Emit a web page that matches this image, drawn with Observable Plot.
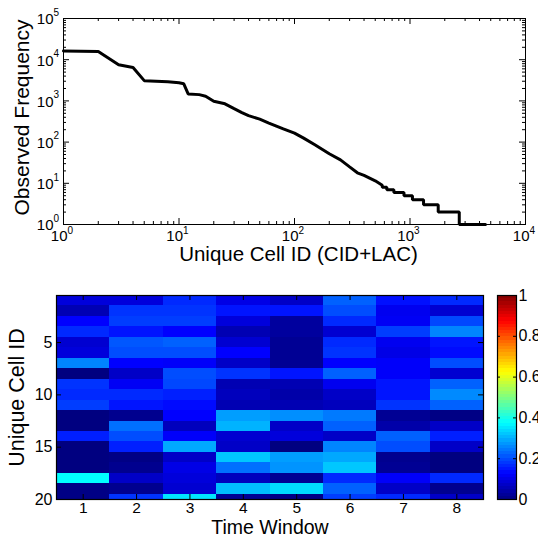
<!DOCTYPE html>
<html>
<head>
<meta charset="utf-8">
<script src="https://cdn.jsdelivr.net/npm/d3@7"></script>
<script src="https://cdn.jsdelivr.net/npm/@observablehq/plot@0.6"></script>
<style>
  html, body { margin: 0; padding: 0; background: white; }
  #wrap { position: relative; width: 538px; height: 542px; background: white; overflow: hidden; }
  #wrap > * { position: absolute; left: 0; }
</style>
</head>
<body>
<div id="wrap"></div>
<script>
// ---- Top panel: rank / frequency (log-log) ----
const ranks = [1,2,3,4,5,8,10,11,12,15,17,20,25,30,35,40,50,60,80,100,120,150,200,250,300,350,400,500,575,575,630,630,725,725,887,887,1050,1050,1310,1310,1755,1755,2670,2670,4500];
const freqs = [16200,15800,7500,6500,3100,2900,2750,2600,1480,1420,1300,980,850,650,520,440,360,290,210,165,125,86,52,37,25,18,15.5,11.5,9,8,8,7,7,6,6,5,5,4,4,3,3,2,2,1,1];
const xDecades = [1,10,100,1000,10000];
const xExponents = ["0","1","2","3","4"];
const yDecades = [1,10,100,1000,10000,100000];
const yExponents = ["0","1","2","3","4","5"];

// ---- Bottom panel: heatmap, one array per time window (rows = unique cell ID 1..20) ----
const window1 = [.09,.05,.125,.165,.08,.09,.255,.00,.175,.165,.185,.00,.00,.155,.00,.00,.00,.375,.005,.005];
const window2 = [.09,.175,.185,.145,.21,.20,.125,.07,.115,.165,.145,.015,.235,.20,.155,.005,.015,.07,.015,.175];
const window3 = [.165,.175,.185,.125,.22,.20,.12,.20,.195,.155,.135,.125,.06,.12,.29,.07,.10,.09,.08,.35];
const window4 = [.10,.145,.09,.05,.08,.125,.07,.175,.05,.06,.05,.28,.30,.08,.07,.32,.235,.06,.31,.02];
const window5 = [.07,.145,.03,.03,.02,.02,.02,.145,.05,.04,.05,.265,.07,.09,.00,.28,.27,.02,.34,.005];
const window6 = [.22,.20,.165,.08,.165,.175,.125,.22,.11,.07,.06,.245,.22,.07,.255,.29,.32,.165,.22,.185];
const window7 = [.14,.11,.115,.185,.11,.10,.12,.12,.145,.145,.175,.02,.04,.22,.20,.015,.02,.12,.07,.165];
const window8 = [.165,.08,.195,.255,.145,.135,.20,.08,.22,.26,.22,.005,.07,.155,.07,.00,.00,.165,.015,.07];
const timeWindows = [window1,window2,window3,window4,window5,window6,window7,window8];
const xTickLabels = ["1","2","3","4","5","6","7","8"];
const yTickValues = [5,10,15,20];
const colorbarTicks = [0,0.2,0.4,0.6,0.8,1];
const colorbarLabels = ["0","0.2","0.4","0.6","0.8","1"];

const FONT = "'Liberation Sans', Arial, Helvetica, sans-serif";
const jetScale = d3.scaleLinear()
  .domain([0, 0.125, 0.375, 0.625, 0.875, 1])
  .range(["#000080", "#0000ff", "#00ffff", "#ffff00", "#ff0000", "#800000"])
  .clamp(true);
const jet = t => jetScale(t);

const wrap = document.getElementById("wrap");

// ================= TOP CHART =================
const tW = 538, tH = 270, tML = 63, tMR = 13, tMT = 18, tMB = 46;
const tFW = tW - tML - tMR, tFH = tH - tMT - tMB;
const lineData = ranks.map((r, i) => ({rank: r, freq: freqs[i]}));
const xMinor = d3.scaleLog().domain([1, 1e4]).ticks().filter(v => !xDecades.includes(v));
const yMinor = d3.scaleLog().domain([1, 1e5]).ticks().filter(v => !yDecades.includes(v));

const topChart = Plot.plot({
  width: tW, height: tH,
  marginLeft: tML, marginRight: tMR, marginTop: tMT, marginBottom: tMB,
  style: {background: "transparent", fontFamily: FONT, overflow: "visible"},
  x: {type: "log", domain: [1, 1e4], axis: null},
  y: {type: "log", domain: [1, 1e5], axis: null},
  marks: [
    Plot.ruleX(xDecades, {x: d => d, insetTop: tFH - 6, stroke: "black"}),
    Plot.ruleX(xDecades, {x: d => d, insetBottom: tFH - 6, stroke: "black"}),
    Plot.ruleX(xMinor, {x: d => d, insetTop: tFH - 3, stroke: "black"}),
    Plot.ruleX(xMinor, {x: d => d, insetBottom: tFH - 3, stroke: "black"}),
    Plot.ruleY(yDecades, {y: d => d, insetRight: tFW - 6, stroke: "black"}),
    Plot.ruleY(yDecades, {y: d => d, insetLeft: tFW - 6, stroke: "black"}),
    Plot.ruleY(yMinor, {y: d => d, insetRight: tFW - 3, stroke: "black"}),
    Plot.ruleY(yMinor, {y: d => d, insetLeft: tFW - 3, stroke: "black"}),
    Plot.line(lineData, {x: "rank", y: "freq", stroke: "black", strokeWidth: 3, strokeLinejoin: "miter"}),
    Plot.frame({stroke: "black"}),
    Plot.text(xDecades, {x: d => d, frameAnchor: "bottom", dy: 16, dx: 4, textAnchor: "end", text: () => "10", fontSize: 15, fill: "black"}),
    Plot.text(xDecades, {x: d => d, frameAnchor: "bottom", dy: 9, dx: 4, textAnchor: "start", text: (d, i) => xExponents[i], fontSize: 10, fill: "black"}),
    Plot.text(yDecades, {y: d => d, frameAnchor: "left", dx: -10, dy: 1, textAnchor: "end", text: () => "10", fontSize: 15, fill: "black"}),
    Plot.text(yDecades, {y: d => d, frameAnchor: "left", dx: -10, dy: -6, textAnchor: "start", text: (d, i) => yExponents[i], fontSize: 10, fill: "black"}),
    Plot.text(["Unique Cell ID (CID+LAC)"], {frameAnchor: "bottom", dx: 4, dy: 36, textAnchor: "middle", text: d => d, fontSize: 20.5, fill: "black"}),
    Plot.text(["Observed Frequency"], {frameAnchor: "left", dx: -41, dy: -4, rotate: -90, textAnchor: "middle", text: d => d, fontSize: 21, fill: "black"})
  ]
});
topChart.style.top = "0px";
wrap.appendChild(topChart);

// ================= BOTTOM HEATMAP =================
const bW = 538, bH = 272, bML = 56, bMR = 55, bMT = 25, bMB = 43;
const bFW = bW - bML - bMR, bFH = bH - bMT - bMB;
const cells = [];
timeWindows.forEach((col, c) => col.forEach((v, r) => cells.push({col: c + 1, row: r + 1, v})));
const colPositions = xTickLabels.map((s, i) => i + 1);

const heat = Plot.plot({
  width: bW, height: bH,
  marginLeft: bML, marginRight: bMR, marginTop: bMT, marginBottom: bMB,
  style: {background: "transparent", fontFamily: FONT, overflow: "visible"},
  x: {domain: [0.5, 8.5], axis: null},
  y: {domain: [0.5, 20], reverse: true, axis: null},
  color: {type: "linear", domain: [0, 1], interpolate: jet},
  marks: [
    Plot.rect(cells, {x1: d => d.col - 0.5, x2: d => d.col + 0.5, y1: d => d.row - 0.5, y2: d => d.row + 0.5, fill: "v", clip: true, shapeRendering: "crispEdges"}),
    Plot.ruleX(colPositions, {x: d => d, insetTop: bFH - 5, stroke: "black"}),
    Plot.ruleX(colPositions, {x: d => d, insetBottom: bFH - 5, stroke: "black"}),
    Plot.ruleY(yTickValues, {y: d => d, insetRight: bFW - 5, stroke: "black"}),
    Plot.ruleY(yTickValues, {y: d => d, insetLeft: bFW - 5, stroke: "black"}),
    Plot.frame({stroke: "black", strokeWidth: 1.2}),
    Plot.text(colPositions, {x: d => d, frameAnchor: "bottom", dy: 13, text: (d, i) => xTickLabels[i], fontSize: 15.5, fill: "black"}),
    Plot.text(yTickValues, {y: d => d, frameAnchor: "left", dx: -4, textAnchor: "end", text: d => String(d), fontSize: 16, fill: "black"}),
    Plot.text(["Time Window"], {frameAnchor: "bottom", dy: 34, textAnchor: "middle", text: d => d, fontSize: 19.5, fill: "black"}),
    Plot.text(["Unique Cell ID"], {frameAnchor: "left", dx: -39.5, rotate: -90, textAnchor: "middle", text: d => d, fontSize: 21.5, fill: "black"})
  ]
});
heat.style.top = "270px";
wrap.appendChild(heat);

// ================= COLORBAR =================
const cML = 497, cMR = 22;
const cFW = bW - cML - cMR;
const colorbarLevels = d3.range(64);
const cbar = Plot.plot({
  width: bW, height: bH,
  marginLeft: cML, marginRight: cMR, marginTop: bMT, marginBottom: bMB,
  style: {background: "transparent", fontFamily: FONT, overflow: "visible"},
  x: {domain: [0, 1], axis: null},
  y: {domain: [0, 1], axis: null},
  color: {type: "linear", domain: [0, 1], interpolate: jet},
  marks: [
    Plot.rect(colorbarLevels, {x1: 0, x2: 1, y1: d => d / 64, y2: d => (d + 1) / 64, fill: d => (d + 0.5) / 64, shapeRendering: "crispEdges"}),
    Plot.ruleY(colorbarTicks, {y: d => d, insetLeft: cFW - 3, stroke: "black"}),
    Plot.ruleY(colorbarTicks, {y: d => d, insetRight: cFW - 3, stroke: "black"}),
    Plot.frame({stroke: "black", strokeWidth: 1.2}),
    Plot.text(colorbarTicks, {y: d => d, frameAnchor: "right", dx: 2, textAnchor: "start", text: (d, i) => colorbarLabels[i], fontSize: 16, fill: "black"})
  ]
});
cbar.style.top = "270px";
wrap.appendChild(cbar);
</script>
</body>
</html>
